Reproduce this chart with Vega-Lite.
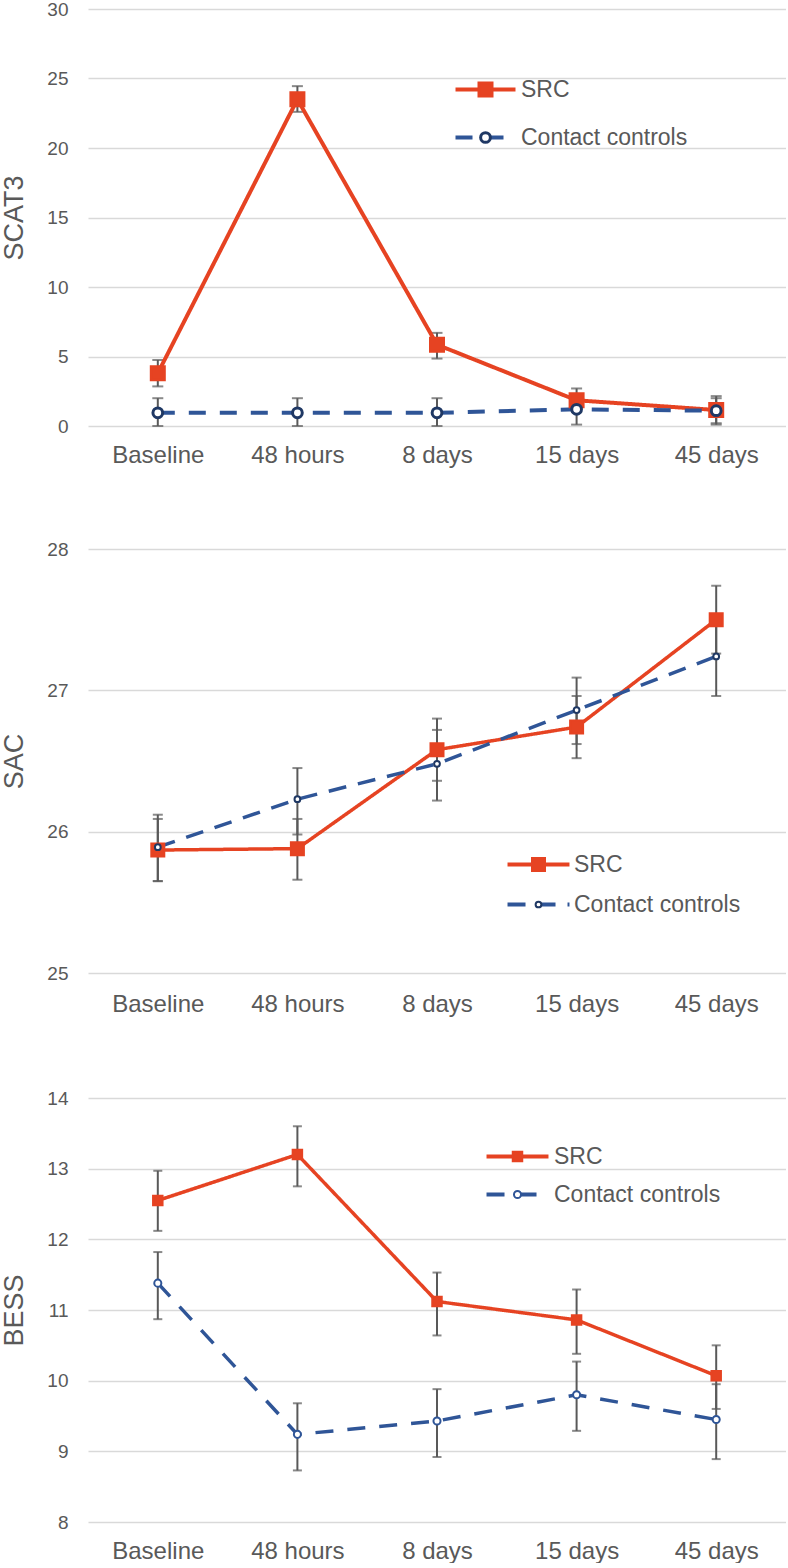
{
  "$schema": "https://vega.github.io/schema/vega-lite/v6.json",
  "padding": 0,
  "background": "white",
  "config": {
    "font": "Liberation Sans",
    "view": {"stroke": null},
    "axis": {"labelColor": "#595959", "titleColor": "#595959", "domain": false, "ticks": false, "tickSize": 0},
    "legend": {"labelLimit": 400}
  },
  "datasets": {
    "scat3": [
      {"time": "Baseline", "group": "SRC", "mean": 3.8, "lo": 2.85, "hi": 4.75},
      {"time": "48 hours", "group": "SRC", "mean": 23.5, "lo": 22.6, "hi": 24.45},
      {"time": "8 days", "group": "SRC", "mean": 5.85, "lo": 4.85, "hi": 6.7},
      {"time": "15 days", "group": "SRC", "mean": 1.85, "lo": 1.0, "hi": 2.7},
      {"time": "45 days", "group": "SRC", "mean": 1.15, "lo": 0.2, "hi": 2.15},
      {"time": "Baseline", "group": "Contact controls", "mean": 0.95, "lo": 0.0, "hi": 2.0},
      {"time": "48 hours", "group": "Contact controls", "mean": 0.95, "lo": 0.0, "hi": 2.0},
      {"time": "8 days", "group": "Contact controls", "mean": 0.95, "lo": 0.0, "hi": 2.0},
      {"time": "15 days", "group": "Contact controls", "mean": 1.2, "lo": 0.1, "hi": 2.2},
      {"time": "45 days", "group": "Contact controls", "mean": 1.1, "lo": 0.1, "hi": 2.0}
    ],
    "sac": [
      {"time": "Baseline", "group": "SRC", "mean": 25.87, "lo": 25.65, "hi": 26.09},
      {"time": "48 hours", "group": "SRC", "mean": 25.88, "lo": 25.66, "hi": 26.09},
      {"time": "8 days", "group": "SRC", "mean": 26.58, "lo": 26.36, "hi": 26.8},
      {"time": "15 days", "group": "SRC", "mean": 26.74, "lo": 26.52, "hi": 26.96},
      {"time": "45 days", "group": "SRC", "mean": 27.5, "lo": 27.26, "hi": 27.74},
      {"time": "Baseline", "group": "Contact controls", "mean": 25.89, "lo": 25.65, "hi": 26.12},
      {"time": "48 hours", "group": "Contact controls", "mean": 26.23, "lo": 25.98, "hi": 26.45},
      {"time": "8 days", "group": "Contact controls", "mean": 26.48, "lo": 26.22, "hi": 26.72},
      {"time": "15 days", "group": "Contact controls", "mean": 26.86, "lo": 26.62, "hi": 27.09},
      {"time": "45 days", "group": "Contact controls", "mean": 27.24, "lo": 26.96, "hi": 27.5}
    ],
    "bess": [
      {"time": "Baseline", "group": "SRC", "mean": 12.55, "lo": 12.12, "hi": 12.97},
      {"time": "48 hours", "group": "SRC", "mean": 13.2, "lo": 12.75, "hi": 13.6},
      {"time": "8 days", "group": "SRC", "mean": 11.12, "lo": 10.64, "hi": 11.53},
      {"time": "15 days", "group": "SRC", "mean": 10.86, "lo": 10.38, "hi": 11.29},
      {"time": "45 days", "group": "SRC", "mean": 10.07, "lo": 9.6, "hi": 10.5},
      {"time": "Baseline", "group": "Contact controls", "mean": 11.38, "lo": 10.87, "hi": 11.82},
      {"time": "48 hours", "group": "Contact controls", "mean": 9.24, "lo": 8.73, "hi": 9.68},
      {"time": "8 days", "group": "Contact controls", "mean": 9.43, "lo": 8.92, "hi": 9.88},
      {"time": "15 days", "group": "Contact controls", "mean": 9.8, "lo": 9.29, "hi": 10.27},
      {"time": "45 days", "group": "Contact controls", "mean": 9.45, "lo": 8.89, "hi": 9.95}
    ]
  },
  "spacing": 73,
  "resolve": {
    "scale": {"color": "independent", "strokeDash": "independent", "fill": "independent", "stroke": "independent", "shape": "independent", "size": "independent"},
    "legend": {"color": "independent", "strokeDash": "independent", "fill": "independent", "stroke": "independent", "shape": "independent", "size": "independent"}
  },
  "vconcat": [
    {
      "width": 698, "height": 417,
      "data": {"name": "scat3"},
      "encoding": {
        "x": {"field": "time", "type": "nominal", "sort": ["Baseline", "48 hours", "8 days", "15 days", "45 days"], "scale": {"type": "point", "padding": 0.5},
              "axis": {"title": null, "labelAngle": 0, "labelFontSize": 24, "labelPadding": 17, "grid": false}}
      },
      "resolve": {"legend": {"color": "independent", "strokeDash": "independent", "fill": "independent", "stroke": "independent", "shape": "independent", "size": "independent"}},
      "layer": [
        {
          "mark": {"type": "errorbar", "color": "#595959", "thickness": 2, "size": 11, "ticks": true},
          "encoding": {
            "y": {"field": "lo", "type": "quantitative", "scale": {"domain": [0, 30], "nice": false, "zero": false},
                  "axis": {"title": "SCAT3", "titleFontSize": 27, "titleFontWeight": "normal", "titlePadding": 18, "labelFontSize": 19, "labelPadding": 20, "format": "d", "values": [0, 5, 10, 15, 20, 25, 30], "gridColor": "#D9D9D9", "gridWidth": 1.5}},
            "y2": {"field": "hi"}
          }
        },
        {
          "mark": {"type": "line", "strokeWidth": 4},
          "encoding": {
            "y": {"field": "mean", "type": "quantitative"},
            "color": {"field": "group", "type": "nominal", "scale": {"domain": ["SRC", "Contact controls"], "range": ["#E64322", "#2F5597"]},
                      "legend": {"title": null, "orient": "none", "legendX": 386, "legendY": 69, "padding": 0, "symbolType": "M-4,0L4,0", "symbolSize": 225, "symbolStrokeWidth": 4, "labelFontSize": 23, "labelColor": "#595959", "labelOffset": 24, "rowPadding": 24}},
            "strokeDash": {"field": "group", "type": "nominal", "scale": {"domain": ["SRC", "Contact controls"], "range": [[1, 0], [17, 14]]},
                      "legend": {"title": null, "orient": "none", "legendX": 386, "legendY": 69, "padding": 0, "symbolType": "M-4,0L4,0", "symbolSize": 225, "symbolStrokeWidth": 4, "labelFontSize": 23, "labelColor": "#595959", "labelOffset": 24, "rowPadding": 24}}
          }
        },
        {
          "mark": {"type": "point", "opacity": 1, "strokeWidth": 3},
          "encoding": {
            "y": {"field": "mean", "type": "quantitative"},
            "shape": {"field": "group", "type": "nominal", "scale": {"domain": ["SRC", "Contact controls"], "range": ["square", "circle"]},
                      "legend": {"title": null, "orient": "none", "legendX": 386, "legendY": 69, "padding": 0, "symbolStrokeWidth": 3, "labelFontSize": 23, "labelExpr": "' '", "rowPadding": 24, "zindex": 2}},
            "fill": {"field": "group", "type": "nominal", "scale": {"domain": ["SRC", "Contact controls"], "range": ["#E64322", "#FFFFFF"]},
                      "legend": {"title": null, "orient": "none", "legendX": 386, "legendY": 69, "padding": 0, "symbolStrokeWidth": 3, "labelFontSize": 23, "labelExpr": "' '", "rowPadding": 24, "zindex": 2}},
            "stroke": {"field": "group", "type": "nominal", "scale": {"domain": ["SRC", "Contact controls"], "range": ["#E64322", "#1F3864"]},
                      "legend": {"title": null, "orient": "none", "legendX": 386, "legendY": 69, "padding": 0, "symbolStrokeWidth": 3, "labelFontSize": 23, "labelExpr": "' '", "rowPadding": 24, "zindex": 2}},
            "size": {"field": "group", "type": "nominal", "scale": {"domain": ["SRC", "Contact controls"], "range": [169, 95]},
                      "legend": {"title": null, "orient": "none", "legendX": 386, "legendY": 69, "padding": 0, "symbolStrokeWidth": 3, "labelFontSize": 23, "labelExpr": "' '", "rowPadding": 24, "zindex": 2}}
          }
        }
      ]
    },
    {
      "width": 698, "height": 424,
      "data": {"name": "sac"},
      "encoding": {
        "x": {"field": "time", "type": "nominal", "sort": ["Baseline", "48 hours", "8 days", "15 days", "45 days"], "scale": {"type": "point", "padding": 0.5},
              "axis": {"title": null, "labelAngle": 0, "labelFontSize": 24, "labelPadding": 19, "grid": false}}
      },
      "resolve": {"legend": {"color": "independent", "strokeDash": "independent", "fill": "independent", "stroke": "independent", "shape": "independent", "size": "independent"}},
      "layer": [
        {
          "mark": {"type": "errorbar", "color": "#595959", "thickness": 2, "size": 10, "ticks": true},
          "encoding": {
            "y": {"field": "lo", "type": "quantitative", "scale": {"domain": [25, 28], "nice": false, "zero": false},
                  "axis": {"title": "SAC", "titleFontSize": 27, "titleFontWeight": "normal", "titlePadding": 18, "labelFontSize": 19, "labelPadding": 20, "format": "d", "values": [25, 26, 27, 28], "gridColor": "#D9D9D9", "gridWidth": 1.5}},
            "y2": {"field": "hi"}
          }
        },
        {
          "mark": {"type": "line", "strokeWidth": 3.5},
          "encoding": {
            "y": {"field": "mean", "type": "quantitative"},
            "color": {"field": "group", "type": "nominal", "scale": {"domain": ["SRC", "Contact controls"], "range": ["#E64322", "#2F5597"]},
                      "legend": {"title": null, "orient": "none", "legendX": 439, "legendY": 304, "padding": 0, "symbolType": "M-4,0L4,0", "symbolSize": 240, "symbolStrokeWidth": 4, "labelFontSize": 23, "labelColor": "#595959", "labelOffset": 24, "rowPadding": 16}},
            "strokeDash": {"field": "group", "type": "nominal", "scale": {"domain": ["SRC", "Contact controls"], "range": [[1, 0], [18, 12]]},
                      "legend": {"title": null, "orient": "none", "legendX": 439, "legendY": 304, "padding": 0, "symbolType": "M-4,0L4,0", "symbolSize": 240, "symbolStrokeWidth": 4, "labelFontSize": 23, "labelColor": "#595959", "labelOffset": 24, "rowPadding": 16}}
          }
        },
        {
          "mark": {"type": "point", "opacity": 1, "strokeWidth": 2},
          "encoding": {
            "y": {"field": "mean", "type": "quantitative"},
            "shape": {"field": "group", "type": "nominal", "scale": {"domain": ["SRC", "Contact controls"], "range": ["square", "circle"]},
                      "legend": {"title": null, "orient": "none", "legendX": 439, "legendY": 304, "padding": 0, "symbolStrokeWidth": 2, "labelFontSize": 23, "labelExpr": "' '", "rowPadding": 16, "zindex": 2}},
            "fill": {"field": "group", "type": "nominal", "scale": {"domain": ["SRC", "Contact controls"], "range": ["#E64322", "#FFFFFF"]},
                      "legend": {"title": null, "orient": "none", "legendX": 439, "legendY": 304, "padding": 0, "symbolStrokeWidth": 2, "labelFontSize": 23, "labelExpr": "' '", "rowPadding": 16, "zindex": 2}},
            "stroke": {"field": "group", "type": "nominal", "scale": {"domain": ["SRC", "Contact controls"], "range": ["#E64322", "#1F3864"]},
                      "legend": {"title": null, "orient": "none", "legendX": 439, "legendY": 304, "padding": 0, "symbolStrokeWidth": 2, "labelFontSize": 23, "labelExpr": "' '", "rowPadding": 16, "zindex": 2}},
            "size": {"field": "group", "type": "nominal", "scale": {"domain": ["SRC", "Contact controls"], "range": [169, 33]},
                      "legend": {"title": null, "orient": "none", "legendX": 439, "legendY": 304, "padding": 0, "symbolStrokeWidth": 2, "labelFontSize": 23, "labelExpr": "' '", "rowPadding": 16, "zindex": 2}}
          }
        }
      ]
    },
    {
      "width": 698, "height": 424,
      "data": {"name": "bess"},
      "encoding": {
        "x": {"field": "time", "type": "nominal", "sort": ["Baseline", "48 hours", "8 days", "15 days", "45 days"], "scale": {"type": "point", "padding": 0.5},
              "axis": {"title": null, "labelAngle": 0, "labelFontSize": 24, "labelPadding": 17, "grid": false}}
      },
      "resolve": {"legend": {"color": "independent", "strokeDash": "independent", "fill": "independent", "stroke": "independent", "shape": "independent", "size": "independent"}},
      "layer": [
        {
          "mark": {"type": "errorbar", "color": "#595959", "thickness": 2, "size": 9, "ticks": true},
          "encoding": {
            "y": {"field": "lo", "type": "quantitative", "scale": {"domain": [8, 14], "nice": false, "zero": false},
                  "axis": {"title": "BESS", "titleFontSize": 27, "titleFontWeight": "normal", "titlePadding": 18, "labelFontSize": 19, "labelPadding": 20, "format": "d", "values": [8, 9, 10, 11, 12, 13, 14], "gridColor": "#D9D9D9", "gridWidth": 1.5}},
            "y2": {"field": "hi"}
          }
        },
        {
          "mark": {"type": "line", "strokeWidth": 3.5},
          "encoding": {
            "y": {"field": "mean", "type": "quantitative"},
            "color": {"field": "group", "type": "nominal", "scale": {"domain": ["SRC", "Contact controls"], "range": ["#E64322", "#2F5597"]},
                      "legend": {"title": null, "orient": "none", "legendX": 418, "legendY": 47, "padding": 0, "symbolType": "M-4,0L4,0", "symbolSize": 240, "symbolStrokeWidth": 4, "labelFontSize": 23, "labelColor": "#595959", "labelOffset": 25, "rowPadding": 14}},
            "strokeDash": {"field": "group", "type": "nominal", "scale": {"domain": ["SRC", "Contact controls"], "range": [[1, 0], [18, 14]]},
                      "legend": {"title": null, "orient": "none", "legendX": 418, "legendY": 47, "padding": 0, "symbolType": "M-4,0L4,0", "symbolSize": 240, "symbolStrokeWidth": 4, "labelFontSize": 23, "labelColor": "#595959", "labelOffset": 25, "rowPadding": 14}}
          }
        },
        {
          "mark": {"type": "point", "opacity": 1, "strokeWidth": 2},
          "encoding": {
            "y": {"field": "mean", "type": "quantitative"},
            "shape": {"field": "group", "type": "nominal", "scale": {"domain": ["SRC", "Contact controls"], "range": ["square", "circle"]},
                      "legend": {"title": null, "orient": "none", "legendX": 418, "legendY": 47, "padding": 0, "symbolStrokeWidth": 2, "labelFontSize": 23, "labelExpr": "' '", "rowPadding": 14, "zindex": 2}},
            "fill": {"field": "group", "type": "nominal", "scale": {"domain": ["SRC", "Contact controls"], "range": ["#E64322", "#FFFFFF"]},
                      "legend": {"title": null, "orient": "none", "legendX": 418, "legendY": 47, "padding": 0, "symbolStrokeWidth": 2, "labelFontSize": 23, "labelExpr": "' '", "rowPadding": 14, "zindex": 2}},
            "stroke": {"field": "group", "type": "nominal", "scale": {"domain": ["SRC", "Contact controls"], "range": ["#E64322", "#2F5597"]},
                      "legend": {"title": null, "orient": "none", "legendX": 418, "legendY": 47, "padding": 0, "symbolStrokeWidth": 2, "labelFontSize": 23, "labelExpr": "' '", "rowPadding": 14, "zindex": 2}},
            "size": {"field": "group", "type": "nominal", "scale": {"domain": ["SRC", "Contact controls"], "range": [90, 50]},
                      "legend": {"title": null, "orient": "none", "legendX": 418, "legendY": 47, "padding": 0, "symbolStrokeWidth": 2, "labelFontSize": 23, "labelExpr": "' '", "rowPadding": 14, "zindex": 2}}
          }
        }
      ]
    }
  ]
}
